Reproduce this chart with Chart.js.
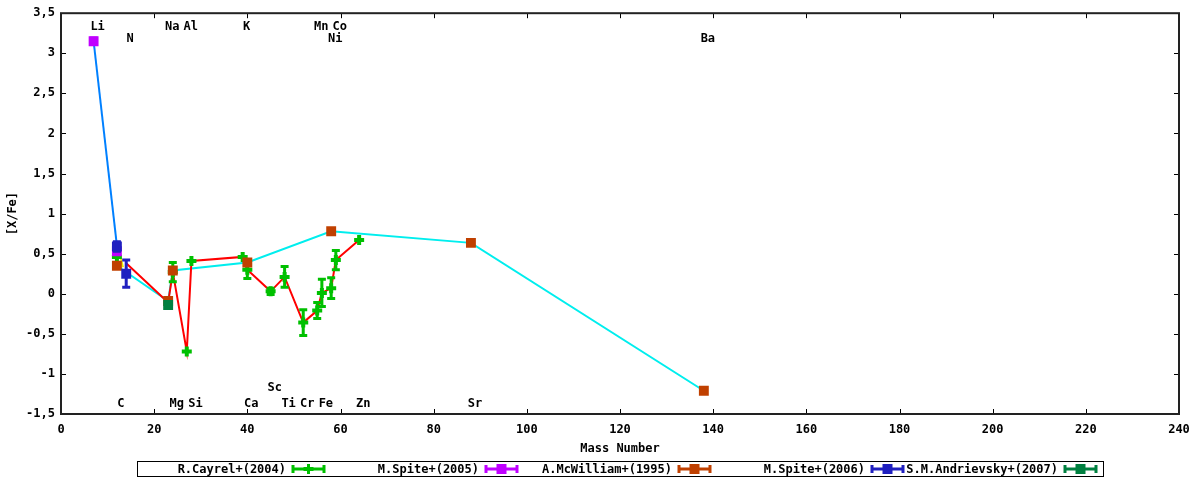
<!DOCTYPE html>
<html>
<head>
<meta charset="utf-8">
<script src="https://cdn.jsdelivr.net/npm/chart.js@4"></script>
<style>
  html, body { margin: 0; padding: 0; background: #fff; }
  #wrap { width: 1200px; height: 480px; }
</style>
</head>
<body>
<div id="wrap"><canvas id="myChart" width="1200" height="480"></canvas></div>
<script>
// element abundances [X/Fe] against mass number

const cayrelMass = [12, 24, 27, 28, 39, 40, 45, 48, 52, 55, 56, 58, 59, 64];
const cayrelXFe  = [0.46, 0.27, -0.72, 0.41, 0.46, 0.30, 0.03, 0.21, -0.36, -0.21, 0.01, 0.07, 0.42, 0.67];
const cayrelErr  = [0, 0.12, 0, 0, 0, 0.11, 0.04, 0.13, 0.16, 0.10, 0.17, 0.13, 0.12, 0];

const spite05Mass = [7, 12];
const spite05XFe  = [3.15, 0.53];
const spite05Err  = [0.04, 0];

const mcwilliamMass = [12, 23, 24, 40, 58, 88, 138];
const mcwilliamXFe  = [0.35, -0.09, 0.29, 0.39, 0.78, 0.635, -1.21];

const spite06Mass = [12, 14];
const spite06XFe  = [0.59, 0.25];
const spite06Err  = [0.06, 0.17];

const andrievskyMass = [23];
const andrievskyXFe  = [-0.14];

// connecting lines
const liLineMass = [7, 12];
const liLineXFe  = [3.15, 0.6];
const redLineMass = [14, 23, 24, 27, 28, 39, 40, 45, 48, 52, 55, 56, 58, 59, 64];
const redLineXFe  = [0.38, -0.11, 0.27, -0.72, 0.41, 0.46, 0.30, 0.03, 0.21, -0.36, -0.21, 0.01, 0.07, 0.42, 0.67];
const cyanLineMass = [12, 23, 24, 40, 58, 88, 138];
const cyanLineXFe  = [0.35, -0.09, 0.29, 0.39, 0.78, 0.635, -1.21];
const yellowLineMass = [12.6, 13.3];
const yellowLineXFe  = [0.51, 0.33];

// element labels
const elemNames = ['Li', 'Na', 'Al', 'K', 'Mn', 'Co', 'N', 'Ni', 'Ba',
                   'C', 'Mg', 'Si', 'Ca', 'Ti', 'Cr', 'Fe', 'Zn', 'Sr', 'Sc'];
const elemMass  = [7, 23, 27, 39, 55, 59, 14, 58, 138,
                   12, 24, 28, 40, 48, 52, 56, 64, 88, 45];
const elemY     = [3.33, 3.33, 3.33, 3.33, 3.33, 3.33, 3.18, 3.18, 3.18,
                   -1.37, -1.37, -1.37, -1.37, -1.37, -1.37, -1.37, -1.37, -1.37, -1.17];

const legendNames = ['R.Cayrel+(2004)', 'M.Spite+(2005)', 'A.McWilliam+(1995)', 'M.Spite+(2006)', 'S.M.Andrievsky+(2007)'];

const FONT = "'DejaVu Sans Mono', monospace";

function pts(xs, ys) {
  return xs.map((x, i) => ({ x: x, y: ys[i] }));
}

function lineSet(xs, ys, color) {
  return {
    data: pts(xs, ys), showLine: true, borderColor: color, borderWidth: 2,
    pointRadius: 0, fill: false, order: 20
  };
}

function pointSet(label, xs, ys, errs, color, style, radius, order) {
  return {
    label: label, data: pts(xs, ys), errs: errs, showLine: false,
    pointStyle: style, pointRadius: radius, pointHoverRadius: radius,
    backgroundColor: color, borderColor: color,
    borderWidth: style === 'cross' ? 4 : 0, order: order
  };
}

// error bars, drawn with their own dataset
const errorBars = {
  id: 'errorBars',
  afterDatasetDraw(chart, args) {
    const ds = chart.data.datasets[args.index];
    if (!ds.errs) return;
    const ctx = chart.ctx, xs = chart.scales.x, ys = chart.scales.y;
    ctx.save();
    ctx.strokeStyle = ds.borderColor;
    ctx.lineWidth = 3;
    ds.data.forEach((p, i) => {
      const e = ds.errs[i];
      if (!e) return;
      const px = xs.getPixelForValue(p.x);
      const y1 = ys.getPixelForValue(p.y - e);
      const y2 = ys.getPixelForValue(p.y + e);
      ctx.beginPath();
      ctx.moveTo(px, y1); ctx.lineTo(px, y2);
      ctx.moveTo(px - 4, y1); ctx.lineTo(px + 4, y1);
      ctx.moveTo(px - 4, y2); ctx.lineTo(px + 4, y2);
      ctx.stroke();
    });
    ctx.restore();
  }
};

// gnuplot style frame with inward ticks, element labels and boxed legend
const frame = {
  id: 'frame',
  beforeDatasetsDraw(chart) {
    const ctx = chart.ctx, a = chart.chartArea;
    const xs = chart.scales.x, ys = chart.scales.y;
    ctx.save();
    ctx.strokeStyle = '#000';
    ctx.lineWidth = 1;
    ctx.beginPath();
    xs.ticks.forEach(t => {
      const px = Math.round(xs.getPixelForValue(t.value)) + 0.5;
      ctx.moveTo(px, a.bottom); ctx.lineTo(px, a.bottom - 5);
      ctx.moveTo(px, a.top); ctx.lineTo(px, a.top + 5);
    });
    ys.ticks.forEach(t => {
      const py = Math.round(ys.getPixelForValue(t.value)) + 0.5;
      ctx.moveTo(a.left, py); ctx.lineTo(a.left + 5, py);
      ctx.moveTo(a.right, py); ctx.lineTo(a.right - 5, py);
    });
    ctx.stroke();
    ctx.lineWidth = 2;
    ctx.strokeStyle = '#222';
    ctx.strokeRect(a.left, a.top, a.right - a.left, a.bottom - a.top);

    ctx.fillStyle = '#000';
    ctx.font = 'bold 12px ' + FONT;
    ctx.textAlign = 'center';
    ctx.textBaseline = 'middle';
    elemNames.forEach((n, i) => {
      ctx.fillText(n, xs.getPixelForValue(elemMass[i]) + 4, ys.getPixelForValue(elemY[i]));
    });
    ctx.restore();
  },
  afterDraw(chart) {
    const ctx = chart.ctx;
    const sets = chart.data.datasets.filter(d => d.label);
    ctx.save();
    ctx.strokeStyle = '#000';
    ctx.lineWidth = 1;
    ctx.strokeRect(137.5, 461.5, 966, 15);
    ctx.font = 'bold 12px ' + FONT;
    ctx.textAlign = 'right';
    ctx.textBaseline = 'middle';
    const y = 469;
    sets.forEach((ds, i) => {
      const x2 = 325 + 193 * i, x1 = x2 - 33, xm = (x1 + x2) / 2;
      ctx.fillStyle = '#000';
      ctx.fillText(ds.label, x1 - 6, y + 1);
      ctx.strokeStyle = ds.borderColor;
      ctx.fillStyle = ds.borderColor;
      ctx.lineWidth = 3;
      ctx.beginPath();
      ctx.moveTo(x1, y); ctx.lineTo(x2, y);
      ctx.moveTo(x1 + 1, y - 4); ctx.lineTo(x1 + 1, y + 4);
      ctx.moveTo(x2 - 1, y - 4); ctx.lineTo(x2 - 1, y + 4);
      if (ds.pointStyle === 'cross') {
        ctx.moveTo(xm, y - 5); ctx.lineTo(xm, y + 5);
      }
      ctx.stroke();
      if (ds.pointStyle !== 'cross') ctx.fillRect(xm - 5, y - 5, 10, 10);
      else {
        ctx.lineWidth = 4;
        ctx.beginPath(); ctx.moveTo(xm - 5, y); ctx.lineTo(xm + 5, y); ctx.stroke();
      }
    });
    ctx.restore();
  }
};

const ctx = document.getElementById('myChart');

new Chart(ctx, {
  type: 'scatter',
  data: {
    datasets: [
      pointSet(legendNames[0], cayrelMass, cayrelXFe, cayrelErr, '#00c000', 'cross', 5, 5),
      pointSet(legendNames[1], spite05Mass, spite05XFe, spite05Err, '#c000ff', 'rect', 7, 4),
      pointSet(legendNames[2], mcwilliamMass, mcwilliamXFe, null, '#c04000', 'rect', 7, 3),
      pointSet(legendNames[3], spite06Mass, spite06XFe, spite06Err, '#2020c0', 'rect', 7, 2),
      pointSet(legendNames[4], andrievskyMass, andrievskyXFe, null, '#008040', 'rect', 7, 1),
      lineSet(liLineMass, liLineXFe, '#0080ff'),
      lineSet(redLineMass, redLineXFe, '#ff0000'),
      lineSet(cyanLineMass, cyanLineXFe, '#00eeee'),
      lineSet(yellowLineMass, yellowLineXFe, '#eeee00')
    ]
  },
  options: {
    responsive: false,
    animation: false,
    devicePixelRatio: 1,
    layout: { padding: { top: 13, right: 21, bottom: 24, left: 0 } },
    plugins: {
      legend: { display: false },
      tooltip: { enabled: false }
    },
    scales: {
      x: {
        type: 'linear', min: 0, max: 240,
        grid: { display: false, drawTicks: false },
        border: { display: false },
        ticks: { stepSize: 20, color: '#000', padding: 9, font: { family: FONT, size: 12, weight: 'bold' } },
        title: { display: true, text: 'Mass Number', color: '#000', padding: { top: 2, bottom: 0 },
                 font: { family: FONT, size: 12, weight: 'bold' } },
        afterFit(scale) { scale.height = 42; }
      },
      y: {
        type: 'linear', min: -1.5, max: 3.5,
        grid: { display: false, drawTicks: false },
        border: { display: false },
        ticks: {
          stepSize: 0.5, color: '#000', padding: 6,
          font: { family: FONT, size: 12, weight: 'bold' },
          callback: v => String(v).replace('.', ',')
        },
        title: { display: true, text: '[X/Fe]', color: '#000', padding: { top: 6, bottom: 0 },
                 font: { family: FONT, size: 12, weight: 'bold' } },
        afterFit(scale) { scale.width = 61; }
      }
    }
  },
  plugins: [errorBars, frame]
});
</script>
</body>
</html>
